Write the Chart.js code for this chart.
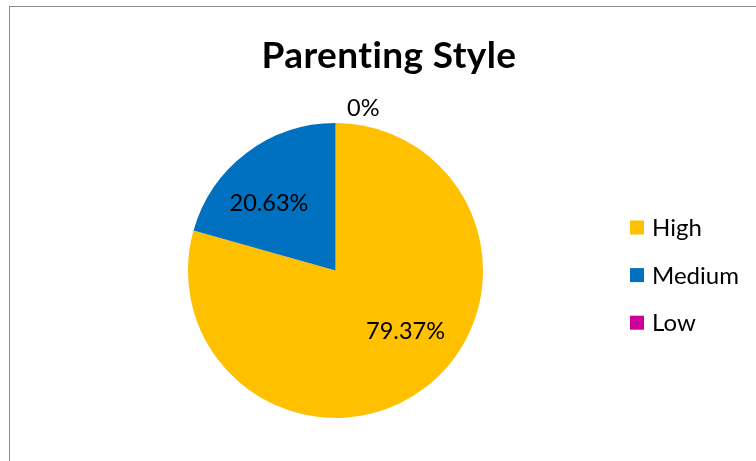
<!DOCTYPE html>
<html>
<head>
<meta charset="utf-8">
<script src="https://cdn.jsdelivr.net/npm/chart.js@4/dist/chart.umd.min.js"></script>
<style>
    html, body { margin: 0; padding: 0; background: #fff; }
    #wrap { position: relative; width: 756px; height: 461px; overflow: hidden; }
    #frame { position: absolute; left: 9px; top: 6px; right: -2px; bottom: -2px; border-left: 1px solid #8a8a8a; border-top: 1px solid #8a8a8a; }
    #pie { position: absolute; left: 0; top: 0; }
</style>
</head>
<body>
<div id="wrap">
    <div id="frame"></div>
    <canvas id="pie" width="756" height="461"></canvas>
</div>
<script>
const chartTitle = "Parenting Style";
const styleLabels = ["High", "Medium", "Low"];
const stylePercent = [79.37, 20.63, 0];
const styleColors = ["#FFC000", "#0070C0", "#CC0099"];

const FONT = "Lato, 'Open Sans', sans-serif";

function pctText(v) {
    return v + "%";
}

// title, legend and percentage labels, Excel style
const excelDecor = {
    id: 'excelDecor',
    afterDraw(chart, args, opts) {
        const ctx = chart.ctx;
        ctx.save();
        ctx.fillStyle = "#000";
        // a tiny letter spacing keeps Lato from joining "ti"
        ctx.letterSpacing = "0.4px";

        // title
        ctx.font = "bold 37px " + FONT;
        ctx.textAlign = "center";
        ctx.textBaseline = "alphabetic";
        ctx.fillText(chartTitle, opts.titleX, opts.titleY);

        // data labels
        ctx.letterSpacing = "0px";
        ctx.font = opts.labelSize + "px " + FONT;
        const arcs = chart.getDatasetMeta(0).data;
        arcs.forEach(function(arc, i) {
            const p = arc.getProps(['x', 'y', 'startAngle', 'endAngle', 'outerRadius'], true);
            const nudge = opts.nudge[i];
            const mid = (p.startAngle + p.endAngle) / 2 + nudge.da * Math.PI / 180;
            const dist = p.outerRadius * nudge.r;
            const cx = p.x + Math.cos(mid) * dist;
            const cy = p.y + Math.sin(mid) * dist;
            ctx.fillText(pctText(stylePercent[i]), cx, cy + opts.labelSize * 0.36);
        });

        // legend
        ctx.font = opts.legendSize + "px " + FONT;
        ctx.textAlign = "left";
        styleLabels.forEach(function(lbl, i) {
            const cy = opts.legendTop + i * opts.legendGap;
            ctx.fillStyle = styleColors[i];
            ctx.fillRect(opts.legendX, cy - 7, 14, 14);
            ctx.fillStyle = "#000";
            ctx.fillText(lbl, opts.legendX + 22, cy + opts.legendSize * 0.36);
        });
        ctx.restore();
    }
};

const ctx = document.getElementById('pie').getContext('2d');
new Chart(ctx, {
    type: 'pie',
    data: {
        labels: styleLabels,
        datasets: [{
            data: stylePercent,
            backgroundColor: styleColors,
            borderWidth: 0
        }]
    },
    options: {
        responsive: false,
        animation: false,
        layout: {
            padding: { left: 188, right: 273, top: 123, bottom: 43 }
        },
        plugins: {
            legend: { display: false },
            title: { display: false },
            tooltip: { enabled: false },
            excelDecor: {
                titleX: 389,
                titleY: 68,
                labelSize: 23.5,
                legendSize: 24,
                legendX: 630,
                legendTop: 227.5,
                legendGap: 47.6,
                nudge: [
                    { r: 0.626, da: -12.2 },
                    { r: 0.643, da: -7.4 },
                    { r: 1.12, da: 9.7 }
                ]
            }
        }
    },
    plugins: [excelDecor]
});
</script>
</body>
</html>
